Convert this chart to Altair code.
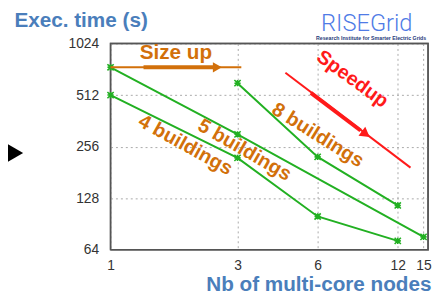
import altair as alt
import pandas as pd

# ---- data ----
nodes_4 = [1, 3, 6, 12]
time_4 = [512, 220, 100, 72]
nodes_5 = [1, 3, 15]
time_5 = [744, 302, 76]
nodes_8 = [3, 6, 12]
time_8 = [601, 223, 116]

x_ticks = [1, 3, 6, 12, 15]
y_ticks = [64, 128, 256, 512, 1024]
x_domain = [1, 15.6]
y_domain = [64, 1024]

GREEN = "#22b022"
ORANGE = "#d2700a"
RED = "#ff1a1a"
BLUE = "#4a7ebb"
FONT = "Liberation Sans"
W, H = 322, 209

rows = []
for name, xs, ys in [("4 buildings", nodes_4, time_4),
                     ("5 buildings", nodes_5, time_5),
                     ("8 buildings", nodes_8, time_8)]:
    for a, b in zip(xs, ys):
        rows.append({"series": name, "nodes": a, "time": b})
df = pd.DataFrame(rows)

xscale = alt.Scale(type="log", domain=x_domain, nice=False)
yscale = alt.Scale(type="log", base=2, domain=y_domain, nice=False)

xaxis = alt.Axis(values=x_ticks, format="d", title="Nb of multi-core nodes",
                 titleX=325, titleY=41, titleAlign="right", titleBaseline="alphabetic",
                 titleFontSize=21, titleFont=FONT, titleFontWeight="bold", titleColor=BLUE,
                 labelFont=FONT, labelFontSize=14, labelColor="#333", labelPadding=9,
                 labelFlush=False, tickSize=0, domain=False,
                 grid=True, gridDash=[2, 3], gridColor="#aaa")
yaxis = alt.Axis(values=y_ticks, format="d", title="Exec. time (s)", titleAngle=0,
                 titleX=-98, titleY=-23, titleAlign="left", titleBaseline="middle",
                 titleFontSize=21, titleFont=FONT, titleFontWeight="bold", titleColor=BLUE,
                 labelFont=FONT, labelFontSize=14, labelColor="#333", labelPadding=12,
                 labelFlush=False, tickSize=0, domain=False,
                 grid=True, gridDash=[2, 3], gridColor="#aaa")

X = alt.X("nodes:Q", scale=xscale, axis=xaxis)
Y = alt.Y("time:Q", scale=yscale, axis=yaxis)

# plot frame drawn as a closed path along the scale domain corners
frame_df = pd.DataFrame({
    "nodes": [x_domain[0], x_domain[0], x_domain[1], x_domain[1], x_domain[0]],
    "time": [y_domain[0], y_domain[1], y_domain[1], y_domain[0], y_domain[0]],
    "k": [0, 1, 2, 3, 4],
})
frame = alt.Chart(frame_df).mark_line(color="#555555", strokeWidth=1.5).encode(
    x=X, y=Y, order="k:Q")

lines = alt.Chart(df).mark_line(color=GREEN, strokeWidth=2).encode(
    x="nodes:Q", y="time:Q", detail="series:N")
star = "M-1,-1L1,1M-1,1L1,-1M-1,0L1,0M0,-1L0,1"
points = alt.Chart(df).mark_point(shape=star, filled=False, color=GREEN,
                                  strokeWidth=1.6, size=40, opacity=1).encode(
    x="nodes:Q", y="time:Q")


def seg(x1, y1, x2, y2, color, width):
    d = pd.DataFrame({"nodes": [x1, x2], "time": [y1, y2]})
    return alt.Chart(d).mark_line(color=color, strokeWidth=width).encode(x="nodes:Q", y="time:Q")


def head(x, y, color, angle, size, shape="triangle-right"):
    d = pd.DataFrame({"nodes": [x], "time": [y]})
    return alt.Chart(d).mark_point(shape=shape, filled=True, color=color,
                                   size=size, angle=angle, opacity=1).encode(x="nodes:Q", y="time:Q")


def label(txt, x, y, color, size, angle=0, weight="bold", font=FONT, baseline="middle"):
    d = pd.DataFrame({"nodes": [x], "time": [y], "t": [txt]})
    return alt.Chart(d).mark_text(color=color, fontSize=size, angle=angle, fontWeight=weight,
                                  font=font, align="center", baseline=baseline).encode(
        x="nodes:Q", y="time:Q", text="t:N")


# annotations (data coordinates)
sizeup = [
    seg(1, 744, 3.1, 744, ORANGE, 2),
    seg(1.33, 744, 2.45, 744, ORANGE, 4),
    head(2.52, 744, ORANGE, 0, 110),
    label("Size up", 1.76, 896, ORANGE, 21),
]
speed = [
    seg(4.54, 691, 13.4, 193, RED, 2),
    seg(5.66, 527, 8.7, 318, RED, 4),
    head(9.1, 303, RED, 37, 130),
    label("Speedup", 8.1, 635, RED, 20, angle=36),
]
names = [
    label("4 buildings", 1.91, 261, ORANGE, 20, angle=29),
    label("5 buildings", 3.19, 244, ORANGE, 20, angle=30),
    label("8 buildings", 6.01, 298, ORANGE, 20, angle=32),
]
deco = [
    label("RISEGrid", 9.18, 1217, "#4f7be6", 24, weight=300,
          font="Roboto", baseline="alphabetic"),
    label("Research Institute for Smarter Electric Grids", 9.53, 1100, "#1f3a7a", 5.3),
    head(0.413, 235, "black", 0, 900, shape="M-1,-1.15L1,0L-1,1.15Z"),
]

chart = alt.layer(frame, lines, points, *sizeup, *speed, *names, *deco).properties(
    width=W, height=H,
    autosize=alt.AutoSizeParams(type="none"),
    padding={"left": 104, "top": 34, "right": 5, "bottom": 49},
).configure_view(stroke="#555555", strokeWidth=1.5)

chart.save("out.html", embed_options={"renderer": "svg", "actions": False})
